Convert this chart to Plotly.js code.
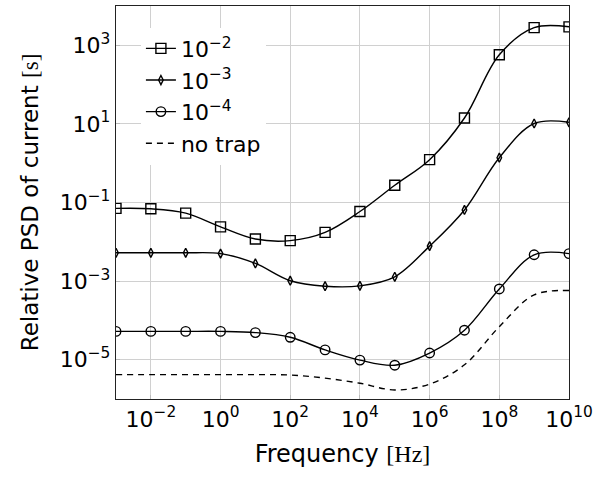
<!DOCTYPE html>
<html>
<head>
<meta charset="utf-8">
<script src="https://cdn.plot.ly/plotly-3.0.1.min.js"></script>
<style>
  html, body { margin: 0; padding: 0; background: #fff; }
  #chart { width: 602px; height: 479px; }
</style>
</head>
<body>
<div id="chart"></div>
<script>
// Frequencies (Hz): 10^-3 ... 10^10
const frequency = [1e-3, 1e-2, 1e-1, 1e0, 1e1, 1e2, 1e3, 1e4, 1e5, 1e6, 1e7, 1e8, 1e9, 1e10];

// Relative PSD values (log10)
const log_psd_1e2 = [-1.15, -1.16, -1.27, -1.62, -1.93, -1.97, -1.76, -1.23, -0.56, 0.09, 1.15, 2.76, 3.45, 3.47];
const log_psd_1e3 = [-2.28, -2.28, -2.28, -2.30, -2.55, -2.99, -3.13, -3.12, -2.89, -2.11, -1.19, 0.14, 1.01, 1.04];
const log_psd_1e4 = [-4.28, -4.28, -4.28, -4.28, -4.31, -4.43, -4.75, -5.01, -5.14, -4.83, -4.25, -3.20, -2.33, -2.30];
const log_psd_notrap = [-5.38, -5.38, -5.38, -5.38, -5.38, -5.39, -5.47, -5.60, -5.77, -5.62, -5.13, -4.16, -3.35, -3.24];

const seriesNames = ['10<sup>−2</sup>', '10<sup>−3</sup>', '10<sup>−4</sup>', 'no trap'];

const xTickVals = [1e-2, 1e0, 1e2, 1e4, 1e6, 1e8, 1e10];
const xTickText = ['10<sup>−2</sup>', '10<sup>0</sup>', '10<sup>2</sup>', '10<sup>4</sup>', '10<sup>6</sup>', '10<sup>8</sup>', '10<sup>10</sup>'];
const yTickVals = [1e-5, 1e-3, 1e-1, 1e1, 1e3];
const yTickText = ['10<sup>−5</sup>', '10<sup>−3</sup>', '10<sup>−1</sup>', '10<sup>1</sup>', '10<sup>3</sup>'];

const toVals = arr => arr.map(v => Math.pow(10, v));

const FONT = 'DejaVu Sans, sans-serif';
const serifText = t => '<span style="font-family:Liberation Serif, DejaVu Serif, serif">' + t + '</span>';

const lineStyle = {color: '#000', width: 1.4, shape: 'spline', smoothing: 1};

const traces = [
  {
    x: frequency, y: toVals(log_psd_1e2), name: seriesNames[0], mode: 'lines+markers',
    line: lineStyle,
    marker: {symbol: 'square-open', size: 10, color: '#000', line: {width: 1.4, color: '#000'}}
  },
  {
    x: frequency, y: toVals(log_psd_1e3), name: seriesNames[1], mode: 'lines+markers',
    line: lineStyle,
    marker: {symbol: 'diamond-tall-open', size: 6.5, color: '#000', line: {width: 1.4, color: '#000'}}
  },
  {
    x: frequency, y: toVals(log_psd_1e4), name: seriesNames[2], mode: 'lines+markers',
    line: lineStyle,
    marker: {symbol: 'circle-open', size: 9.5, color: '#000', line: {width: 1.4, color: '#000'}}
  },
  {
    x: frequency, y: toVals(log_psd_notrap), name: seriesNames[3], mode: 'lines',
    line: {color: '#000', width: 1.4, shape: 'spline', smoothing: 1, dash: '6px,5px'}
  }
];

const layout = {
  width: 602, height: 479,
  margin: {l: 116, r: 33, t: 6, b: 80},
  paper_bgcolor: '#fff', plot_bgcolor: '#fff',
  font: {family: FONT, color: '#000', size: 20},
  showlegend: true,
  legend: {
    x: 0.055, y: 0.945, xanchor: 'left', yanchor: 'top',
    bgcolor: '#fff', borderwidth: 0,
    font: {family: FONT, size: 22, color: '#000'},
    itemwidth: 30, tracegroupgap: 0
  },
  xaxis: {
    type: 'log', range: [-3, 10],
    tickvals: xTickVals, ticktext: xTickText,
    showgrid: true, gridcolor: '#d0d0d0', gridwidth: 1,
    showline: true, linecolor: '#222', linewidth: 1.2, mirror: true,
    ticks: 'inside', ticklen: 4, tickcolor: '#bbb',
    zeroline: false,
    tickfont: {family: FONT, size: 22},
    title: {text: 'Frequency ' + serifText('[Hz]'), font: {family: FONT, size: 24}, standoff: 14}
  },
  yaxis: {
    type: 'log', range: [-6, 4],
    tickvals: yTickVals, ticktext: yTickText,
    showgrid: true, gridcolor: '#d0d0d0', gridwidth: 1,
    showline: true, linecolor: '#222', linewidth: 1.2, mirror: true,
    ticks: 'inside', ticklen: 4, tickcolor: '#bbb',
    zeroline: false,
    tickfont: {family: FONT, size: 22},
    title: {text: 'Relative PSD of current ' + serifText('[s]'), font: {family: FONT, size: 23}, standoff: 14}
  }
};

Plotly.newPlot('chart', traces, layout, {displayModeBar: false, staticPlot: true});
</script>
</body>
</html>
